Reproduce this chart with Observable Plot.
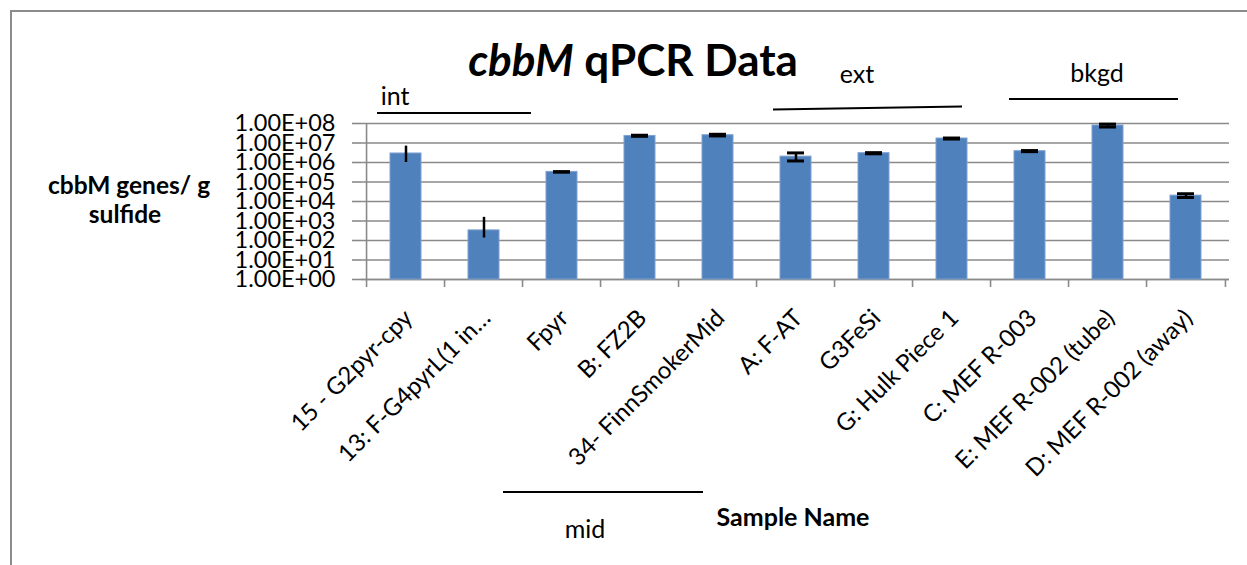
<!DOCTYPE html>
<html><head><meta charset="utf-8">
<script src="https://cdn.jsdelivr.net/npm/d3@7"></script>
<script src="https://cdn.jsdelivr.net/npm/@observablehq/plot@0.6"></script>
<style>
body{margin:0;background:#fff;font-family:Lato,"Liberation Sans",sans-serif;}
#wrap{position:relative;width:1247px;height:565px;overflow:hidden;background:#fff;}
#frame{position:absolute;left:10px;top:10px;width:1300px;height:600px;border-left:2px solid #8c8c8c;border-top:2px solid #8c8c8c;}
#chart{position:absolute;left:0;top:0;}
#over{position:absolute;left:0;top:0;pointer-events:none;}
</style></head>
<body><div id="wrap"><div id="frame"></div><div id="chart"></div></div>
<script>
// ---- data ----
const samples = ["15 - G2pyr-cpy","13: F-G4pyrL(1 in…","Fpyr","B: FZ2B","34- FinnSmokerMid","A: F-AT","G3FeSi","G: Hulk Piece 1","C: MEF R-003","E: MEF R-002 (tube)","D: MEF R-002 (away)"];
const copies  = [2.9e6, 330, 3.3e5, 2.3e7, 2.5e7, 2.0e6, 3.0e6, 1.7e7, 3.8e6, 7.9e7, 2.0e4];
const errLow  = [1.0e6, 134, 3.2e5, 2.2e7, 2.3e7, 1.2e6, 2.8e6, 1.6e7, 3.6e6, 6.6e7, 1.6e4];
const errHigh = [6.9e6, 1540, 3.4e5, 2.5e7, 2.8e7, 3.1e6, 3.2e6, 1.8e7, 4.1e6, 9.3e7, 2.5e4];
const yTicks = [1,10,100,1e3,1e4,1e5,1e6,1e7,1e8];
const yTickLabels = ["1.00E+00","1.00E+01","1.00E+02","1.00E+03","1.00E+04","1.00E+05","1.00E+06","1.00E+07","1.00E+08"];
const titleItalic = "cbbM";
const titleRest = " qPCR Data";
const yLabelLines = ["cbbM genes/ g","sulfide"];
const xLabel = "Sample Name";
const groupLabels = ["int","mid","ext","bkgd"];

const data = samples.map((s,i)=>({sample:s, value:copies[i], lo:errLow[i], hi:errHigh[i], i}));

// ---- layout ----
const W = 1247, H = 565;
const mL = 361, mR = 18, mT = 123, mB = 286;
const step = (W - mL - mR) / samples.length;
const grid = "#8a8a8a";
const font = "Lato, 'Liberation Sans', sans-serif";

const chart = Plot.plot({
  width: W, height: H,
  marginLeft: mL, marginRight: mR, marginTop: mT, marginBottom: mB,
  style: {fontFamily: font, background: "transparent", color: "#000", overflow: "visible"},
  x: {domain: samples, paddingInner: 0.607, paddingOuter: 0.3035, axis: null, label: null},
  y: {type: "log", domain: [1, 1e8], axis: null, label: null},
  marks: [
    Plot.gridY(yTicks, {stroke: grid, strokeOpacity: 1, strokeWidth: 1.6}),
    Plot.axisY(yTicks, {tickSize: 9, text: null, stroke: grid, strokeWidth: 1.6, label: null}),
    Plot.axisY(yTicks, {tickSize: 0, tickPadding: 26, tickFormat: d => yTickLabels[yTicks.indexOf(d)], fontSize: 23.5, fill: "#000", label: null}),
    Plot.ruleY([1], {stroke: grid, strokeWidth: 1.6}),
    Plot.ruleX(samples, {x: d => d, dx: -step/2, y1: 1, y2: 1, insetBottom: -8, stroke: grid, strokeWidth: 1.6}),
    Plot.ruleX([samples[0]], {x: d => d, dx: -step/2, y1: 1, y2: 1e8, stroke: grid, strokeWidth: 1.6}),
    Plot.ruleX([samples[samples.length-1]], {x: d => d, dx: step/2, y1: 1, y2: 1, insetBottom: -8, stroke: grid, strokeWidth: 1.6}),
    Plot.barY(data, {x: "sample", y1: 1, y2: "value", fill: "#4F81BD", stroke: "#7EA1CF", strokeWidth: 1}),
    Plot.ruleX(data, {x: "sample", y1: "lo", y2: "hi", stroke: "#000", strokeWidth: 2.5}),
    Plot.tickY(data.filter(d => d.i >= 2), {x: "sample", y: "hi", stroke: "#000", strokeWidth: 3, insetLeft: 7, insetRight: 7}),
    Plot.tickY(data.filter(d => d.i >= 2), {x: "sample", y: "lo", stroke: "#000", strokeWidth: 3, insetLeft: 7, insetRight: 7}),
    Plot.text(data, {x: "sample", frameAnchor: "bottom", text: "sample", rotate: -45, textAnchor: "end", dx: 8, dy: 40, fontSize: 24, fill: "#000"})
  ]
});
document.getElementById("chart").appendChild(chart);

// ---- overlay: title, axis titles, group annotations ----
const svg = d3.select("#wrap").append("svg").attr("id","over").attr("width",W).attr("height",H)
  .style("font-family", font);
const t = svg.append("text").attr("x", 633).attr("y", 76).attr("text-anchor","middle")
  .attr("font-size", 44).attr("font-weight","bold").attr("fill","#000");
t.append("tspan").attr("font-style","italic").text(titleItalic);
t.append("tspan").text(titleRest);

svg.append("text").attr("x",129).attr("y",194).attr("text-anchor","middle").attr("font-size",24.5).attr("font-weight","bold").text(yLabelLines[0]);
svg.append("text").attr("x",125).attr("y",223).attr("text-anchor","middle").attr("font-size",24.5).attr("font-weight","bold").text(yLabelLines[1]);
svg.append("text").attr("x",793).attr("y",526).attr("text-anchor","middle").attr("font-size",25).attr("font-weight","bold").text(xLabel);

const ann = [
  {label: groupLabels[0], tx: 395, ty: 105, x1: 377, y1: 113, x2: 531, y2: 113},
  {label: groupLabels[1], tx: 585, ty: 538, x1: 503, y1: 492, x2: 703, y2: 492},
  {label: groupLabels[2], tx: 857, ty: 83,  x1: 773, y1: 109.5, x2: 962, y2: 106.5},
  {label: groupLabels[3], tx: 1097, ty: 82, x1: 1009, y1: 99, x2: 1178, y2: 99}
];
for (const a of ann) {
  svg.append("line").attr("x1",a.x1).attr("y1",a.y1).attr("x2",a.x2).attr("y2",a.y2).attr("stroke","#000").attr("stroke-width",2);
  svg.append("text").attr("x",a.tx).attr("y",a.ty).attr("text-anchor","middle").attr("font-size",25).attr("fill","#000").text(a.label);
}
</script>
</body></html>
